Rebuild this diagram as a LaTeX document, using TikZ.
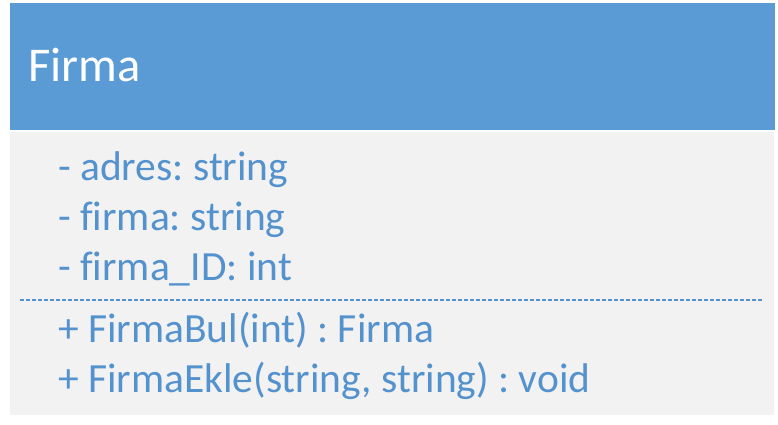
\documentclass[tikz,border=0pt]{standalone}
\usepackage{fontspec}
\setmainfont{Carlito}[Ligatures={NoCommon}]
\definecolor{umlBlue}{RGB}{91,155,213}
\definecolor{umlText}{RGB}{84,146,206}
\definecolor{umlGray}{RGB}{242,242,242}
\usetikzlibrary{positioning,calc}
\frenchspacing

\begin{document}
\begin{tikzpicture}[x=1pt, y=-1pt,
  member/.style={anchor=base west, inner sep=0pt, text=umlText, font=\fontsize{41.5}{48}\selectfont},
  title/.style={anchor=base west, inner sep=0pt, text=white, font=\fontsize{48.5}{56}\selectfont}]
  \useasboundingbox (0,0) rectangle (778,425);
  % Class boxes
  \fill[umlBlue] (10,3) rectangle (775,130);
  \fill[umlGray] (10,132) rectangle (774,415);
  % Class name
  \node[title] (name) at (28,81.5) {Firma};
  % Attributes
  \node[member] (attr1) at (58,180.5) {- adres: string};
  \node[member] (attr2) at (58,230.5) {- firma: string};
  \node[member] (attr3) at (58,280.5) {- firma\_ID: int};
  % Separator
  \coordinate (sepL) at (20,299.5);
  \coordinate (sepR) at (763,299.5);
  \draw[umlText, line width=2pt, dash pattern=on 4pt off 2pt] (sepL) -- (sepR);
  % Methods
  \node[member] (meth1) at (58,342.5) {+ FirmaBul(int) : Firma};
  \node[member] (meth2) at (58,392.5) {+ FirmaEkle(string, string) : void};
\end{tikzpicture}
\end{document}
